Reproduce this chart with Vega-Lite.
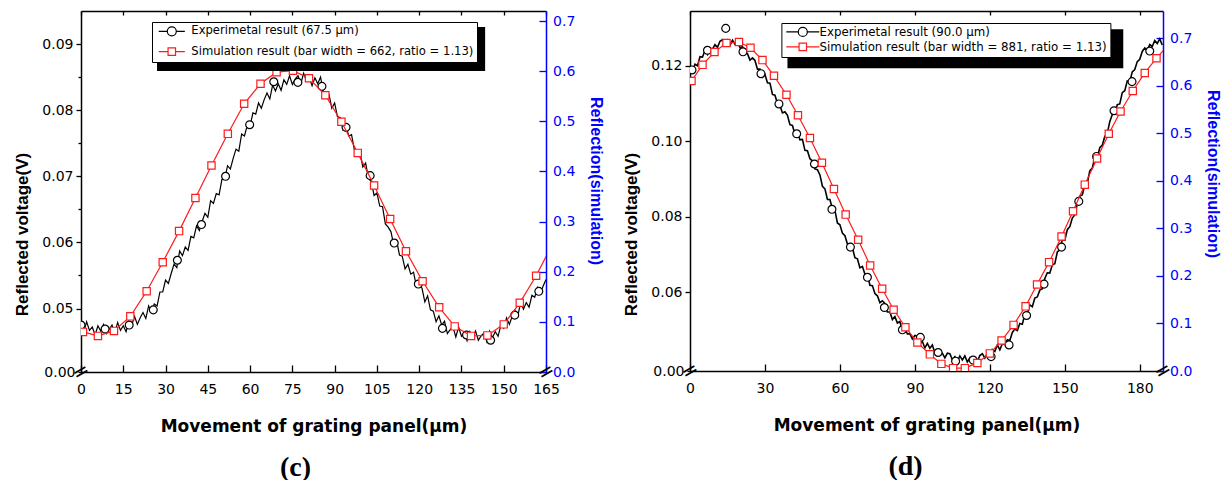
{
"$schema": "https://vega.github.io/schema/vega-lite/v6.json",
"padding": {"left": 13, "top": 10, "right": 0, "bottom": 0},
"config": {
 "view": {"stroke": null},
 "font": "Liberation Sans",
 "axis": {"grid": false, "labelOverlap": false, "labelFlush": false, "domainWidth": 1.5, "tickWidth": 1.3, "domainColor": "black", "tickColor": "black", "labelColor": "black", "titleColor": "black", "labelFont": "DejaVu Sans", "labelFontSize": 14, "titleFont": "Liberation Sans", "titleFontWeight": "bold", "titleFontSize": 17},
 "title": {"font": "Liberation Serif", "fontWeight": "bold", "fontSize": 28, "color": "black"}
},
"datasets": {
 "c_exp": [
{"x":0,"v":0.0479},{"x":1,"v":0.0465},{"x":2,"v":0.0480},{"x":3,"v":0.0467},{"x":4,"v":0.0472},{"x":5,"v":0.0460},{"x":6,"v":0.0474},{"x":7,"v":0.0466},{"x":8,"v":0.0476},{"x":9,"v":0.0462},{"x":10,"v":0.0469},
{"x":11,"v":0.0475},{"x":12,"v":0.0463},{"x":13,"v":0.0479},{"x":14,"v":0.0467},{"x":15,"v":0.0474},{"x":16,"v":0.0465},{"x":17,"v":0.0481},{"x":18,"v":0.0475},{"x":19,"v":0.0488},{"x":20,"v":0.0476},
{"x":21,"v":0.0486},{"x":22,"v":0.0494},{"x":23,"v":0.0485},{"x":24,"v":0.0504},{"x":25,"v":0.0494},{"x":26,"v":0.0507},{"x":27,"v":0.0504},{"x":28,"v":0.0525},{"x":29,"v":0.0525},{"x":30,"v":0.0543},
{"x":31,"v":0.0538},{"x":32,"v":0.0553},{"x":33,"v":0.0567},{"x":34,"v":0.0562},{"x":35,"v":0.0587},{"x":36,"v":0.0580},{"x":37,"v":0.0593},{"x":38,"v":0.0588},{"x":39,"v":0.0609},{"x":40,"v":0.0607},
{"x":41,"v":0.0625},{"x":42,"v":0.0618},{"x":43,"v":0.0632},{"x":44,"v":0.0644},{"x":45,"v":0.0638},{"x":46,"v":0.0663},{"x":47,"v":0.0659},{"x":48,"v":0.0674},{"x":49,"v":0.0672},{"x":50,"v":0.0695},
{"x":51,"v":0.0696},{"x":52,"v":0.0716},{"x":53,"v":0.0711},{"x":54,"v":0.0727},{"x":55,"v":0.0741},{"x":56,"v":0.0738},{"x":57,"v":0.0764},{"x":58,"v":0.0761},{"x":59,"v":0.0777},{"x":60,"v":0.0776},
{"x":61,"v":0.0796},{"x":62,"v":0.0794},{"x":63,"v":0.0811},{"x":64,"v":0.0803},{"x":65,"v":0.0816},{"x":66,"v":0.0826},{"x":67,"v":0.0817},{"x":68,"v":0.0838},{"x":69,"v":0.0829},{"x":70,"v":0.0840},
{"x":71,"v":0.0830},{"x":72,"v":0.0846},{"x":73,"v":0.0839},{"x":74,"v":0.0852},{"x":75,"v":0.0839},{"x":76,"v":0.0847},{"x":77,"v":0.0852},{"x":78,"v":0.0840},{"x":79,"v":0.0856},{"x":80,"v":0.0844},
{"x":81,"v":0.0849},{"x":82,"v":0.0837},{"x":83,"v":0.0849},{"x":84,"v":0.0840},{"x":85,"v":0.0850},{"x":86,"v":0.0828},{"x":87,"v":0.0827},{"x":88,"v":0.0824},{"x":89,"v":0.0803},{"x":90,"v":0.0811},
{"x":91,"v":0.0790},{"x":92,"v":0.0789},{"x":93,"v":0.0770},{"x":94,"v":0.0777},{"x":95,"v":0.0761},{"x":96,"v":0.0763},{"x":97,"v":0.0740},{"x":98,"v":0.0739},{"x":99,"v":0.0736},{"x":100,"v":0.0714},
{"x":101,"v":0.0720},{"x":102,"v":0.0697},{"x":103,"v":0.0692},{"x":104,"v":0.0671},{"x":105,"v":0.0675},{"x":106,"v":0.0655},{"x":107,"v":0.0654},{"x":108,"v":0.0628},{"x":109,"v":0.0623},{"x":110,"v":0.0616},
{"x":111,"v":0.0595},{"x":112,"v":0.0603},{"x":113,"v":0.0581},{"x":114,"v":0.0579},{"x":115,"v":0.0560},{"x":116,"v":0.0567},{"x":117,"v":0.0552},{"x":118,"v":0.0555},{"x":119,"v":0.0534},{"x":120,"v":0.0534},
{"x":121,"v":0.0531},{"x":122,"v":0.0510},{"x":123,"v":0.0519},{"x":124,"v":0.0498},{"x":125,"v":0.0496},{"x":126,"v":0.0480},{"x":127,"v":0.0489},{"x":128,"v":0.0475},{"x":129,"v":0.0481},{"x":130,"v":0.0462},
{"x":131,"v":0.0468},{"x":132,"v":0.0472},{"x":133,"v":0.0457},{"x":134,"v":0.0472},{"x":135,"v":0.0458},{"x":136,"v":0.0463},{"x":137,"v":0.0451},{"x":138,"v":0.0465},{"x":139,"v":0.0456},{"x":140,"v":0.0466},
{"x":141,"v":0.0452},{"x":142,"v":0.0459},{"x":143,"v":0.0463},{"x":144,"v":0.0450},{"x":145,"v":0.0466},{"x":146,"v":0.0456},{"x":147,"v":0.0465},{"x":148,"v":0.0458},{"x":149,"v":0.0475},{"x":150,"v":0.0470},
{"x":151,"v":0.0486},{"x":152,"v":0.0476},{"x":153,"v":0.0488},{"x":154,"v":0.0497},{"x":155,"v":0.0489},{"x":156,"v":0.0509},{"x":157,"v":0.0499},{"x":158,"v":0.0509},{"x":159,"v":0.0502},{"x":160,"v":0.0520},
{"x":161,"v":0.0517},{"x":162,"v":0.0532},{"x":163,"v":0.0523},{"x":164,"v":0.0534},{"x":165,"v":0.0544}
 ],
 "c_circ": [
{"x":0,"v":0.0475},{"x":8.55,"v":0.0469},{"x":17.1,"v":0.0475},{"x":25.65,"v":0.0498},{"x":34.2,"v":0.0573},{"x":42.75,"v":0.0627},{"x":51.3,"v":0.0700},{"x":59.85,"v":0.0778},{"x":68.4,"v":0.0843},{"x":76.95,"v":0.0842},
{"x":85.5,"v":0.0836},{"x":94.05,"v":0.0774},{"x":102.6,"v":0.0701},{"x":111.15,"v":0.0599},{"x":119.7,"v":0.0537},{"x":128.25,"v":0.0470},{"x":136.8,"v":0.0460},{"x":145.35,"v":0.0452},{"x":153.9,"v":0.0490},{"x":162.45,"v":0.0526}
 ],
 "c_sim": [
{"x":0.7,"r":0.080},{"x":6.0,"r":0.072},{"x":11.7,"r":0.082},{"x":17.5,"r":0.111},{"x":23.3,"r":0.161},{"x":29.0,"r":0.219},{"x":34.8,"r":0.281},{"x":40.6,"r":0.347},{"x":46.3,"r":0.412},{"x":52.1,"r":0.475},
{"x":57.9,"r":0.535},{"x":63.7,"r":0.575},{"x":69.4,"r":0.598},{"x":75.2,"r":0.601},{"x":80.9,"r":0.586},{"x":86.7,"r":0.552},{"x":92.4,"r":0.499},{"x":98.2,"r":0.437},{"x":104.0,"r":0.372},{"x":109.7,"r":0.305},
{"x":115.3,"r":0.241},{"x":121.2,"r":0.181},{"x":127.1,"r":0.129},{"x":132.6,"r":0.091},{"x":138.4,"r":0.072},{"x":144.2,"r":0.073},{"x":150.0,"r":0.095},{"x":155.7,"r":0.138},{"x":161.5,"r":0.192},{"x":167.3,"r":0.255}
 ],
 "c_leg": [
{"s":"Experimetal result (67.5 μm)"},
{"s":"Simulation result (bar width = 662, ratio = 1.13)"}
 ],
 "d_exp": [
{"x":0,"v":0.1193},{"x":1,"v":0.1187},{"x":2,"v":0.1204},{"x":3,"v":0.1200},{"x":4,"v":0.1224},{"x":5,"v":0.1223},{"x":6,"v":0.1241},{"x":7,"v":0.1230},{"x":8,"v":0.1247},{"x":9,"v":0.1244},{"x":10,"v":0.1256},
{"x":11,"v":0.1249},{"x":12,"v":0.1265},{"x":13,"v":0.1269},{"x":14,"v":0.1257},{"x":15,"v":0.1268},{"x":16,"v":0.1254},{"x":17,"v":0.1268},{"x":18,"v":0.1257},{"x":19,"v":0.1267},{"x":20,"v":0.1248},
{"x":21,"v":0.1251},{"x":22,"v":0.1234},{"x":23,"v":0.1232},{"x":24,"v":0.1215},{"x":25,"v":0.1221},{"x":26,"v":0.1214},{"x":27,"v":0.1191},{"x":28,"v":0.1191},{"x":29,"v":0.1170},{"x":30,"v":0.1177},
{"x":31,"v":0.1155},{"x":32,"v":0.1154},{"x":33,"v":0.1124},{"x":34,"v":0.1122},{"x":35,"v":0.1100},{"x":36,"v":0.1095},{"x":37,"v":0.1075},{"x":38,"v":0.1078},{"x":39,"v":0.1069},{"x":40,"v":0.1044},
{"x":41,"v":0.1042},{"x":42,"v":0.1019},{"x":43,"v":0.1024},{"x":44,"v":0.1004},{"x":45,"v":0.1005},{"x":46,"v":0.0976},{"x":47,"v":0.0975},{"x":48,"v":0.0954},{"x":49,"v":0.0948},{"x":50,"v":0.0927},
{"x":51,"v":0.0925},{"x":52,"v":0.0911},{"x":53,"v":0.0881},{"x":54,"v":0.0874},{"x":55,"v":0.0846},{"x":56,"v":0.0846},{"x":57,"v":0.0821},{"x":58,"v":0.0817},{"x":59,"v":0.0784},{"x":60,"v":0.0779},
{"x":61,"v":0.0757},{"x":62,"v":0.0750},{"x":63,"v":0.0728},{"x":64,"v":0.0729},{"x":65,"v":0.0718},{"x":66,"v":0.0692},{"x":67,"v":0.0689},{"x":68,"v":0.0665},{"x":69,"v":0.0669},{"x":70,"v":0.0648},
{"x":71,"v":0.0648},{"x":72,"v":0.0619},{"x":73,"v":0.0618},{"x":74,"v":0.0597},{"x":75,"v":0.0591},{"x":76,"v":0.0573},{"x":77,"v":0.0578},{"x":78,"v":0.0571},{"x":79,"v":0.0548},{"x":80,"v":0.0548},
{"x":81,"v":0.0528},{"x":82,"v":0.0536},{"x":83,"v":0.0519},{"x":84,"v":0.0523},{"x":85,"v":0.0498},{"x":86,"v":0.0504},{"x":87,"v":0.0490},{"x":88,"v":0.0491},{"x":89,"v":0.0477},{"x":90,"v":0.0486},
{"x":91,"v":0.0484},{"x":92,"v":0.0465},{"x":93,"v":0.0470},{"x":94,"v":0.0453},{"x":95,"v":0.0465},{"x":96,"v":0.0452},{"x":97,"v":0.0461},{"x":98,"v":0.0440},{"x":99,"v":0.0448},{"x":100,"v":0.0435},
{"x":101,"v":0.0439},{"x":102,"v":0.0427},{"x":103,"v":0.0439},{"x":104,"v":0.0438},{"x":105,"v":0.0422},{"x":106,"v":0.0430},{"x":107,"v":0.0417},{"x":108,"v":0.0432},{"x":109,"v":0.0421},{"x":110,"v":0.0432},
{"x":111,"v":0.0416},{"x":112,"v":0.0427},{"x":113,"v":0.0419},{"x":114,"v":0.0425},{"x":115,"v":0.0417},{"x":116,"v":0.0433},{"x":117,"v":0.0438},{"x":118,"v":0.0426},{"x":119,"v":0.0438},{"x":120,"v":0.0428},
{"x":121,"v":0.0449},{"x":122,"v":0.0444},{"x":123,"v":0.0461},{"x":124,"v":0.0448},{"x":125,"v":0.0464},{"x":126,"v":0.0462},{"x":127,"v":0.0475},{"x":128,"v":0.0473},{"x":129,"v":0.0494},{"x":130,"v":0.0503},
{"x":131,"v":0.0499},{"x":132,"v":0.0518},{"x":133,"v":0.0516},{"x":134,"v":0.0542},{"x":135,"v":0.0543},{"x":136,"v":0.0567},{"x":137,"v":0.0562},{"x":138,"v":0.0585},{"x":139,"v":0.0588},{"x":140,"v":0.0606},
{"x":141,"v":0.0610},{"x":142,"v":0.0637},{"x":143,"v":0.0652},{"x":144,"v":0.0651},{"x":145,"v":0.0673},{"x":146,"v":0.0676},{"x":147,"v":0.0707},{"x":148,"v":0.0713},{"x":149,"v":0.0740},{"x":150,"v":0.0738},
{"x":151,"v":0.0766},{"x":152,"v":0.0774},{"x":153,"v":0.0797},{"x":154,"v":0.0805},{"x":155,"v":0.0836},{"x":156,"v":0.0855},{"x":157,"v":0.0858},{"x":158,"v":0.0884},{"x":159,"v":0.0889},{"x":160,"v":0.0922},
{"x":161,"v":0.0929},{"x":162,"v":0.0957},{"x":163,"v":0.0956},{"x":164,"v":0.0983},{"x":165,"v":0.0990},{"x":166,"v":0.1013},{"x":167,"v":0.1021},{"x":168,"v":0.1052},{"x":169,"v":0.1071},{"x":170,"v":0.1074},
{"x":171,"v":0.1097},{"x":172,"v":0.1099},{"x":173,"v":0.1129},{"x":174,"v":0.1134},{"x":175,"v":0.1160},{"x":176,"v":0.1158},{"x":177,"v":0.1184},{"x":178,"v":0.1190},{"x":179,"v":0.1211},{"x":180,"v":0.1217},
{"x":181,"v":0.1238},{"x":182,"v":0.1247},{"x":183,"v":0.1240},{"x":184,"v":0.1256},{"x":185,"v":0.1251},{"x":186,"v":0.1267},{"x":187,"v":0.1259},{"x":188,"v":0.1271},{"x":189,"v":0.1255}
 ],
 "d_circ": [
{"x":0.8,"v":0.1189},{"x":7.0,"v":0.1241},{"x":14.3,"v":0.1299},{"x":21.2,"v":0.1237},{"x":28.4,"v":0.1179},{"x":35.6,"v":0.1099},{"x":42.7,"v":0.1020},{"x":49.8,"v":0.0940},{"x":56.8,"v":0.0820},{"x":64.2,"v":0.0720},
{"x":71.0,"v":0.0640},{"x":77.8,"v":0.0560},{"x":85.0,"v":0.0501},{"x":92.2,"v":0.0481},{"x":99.3,"v":0.0441},{"x":106.3,"v":0.0418},{"x":113.3,"v":0.0421},{"x":120.5,"v":0.0430},{"x":127.7,"v":0.0461},{"x":134.7,"v":0.0539},
{"x":141.7,"v":0.0622},{"x":148.7,"v":0.0720},{"x":155.6,"v":0.0841},{"x":162.7,"v":0.0960},{"x":169.7,"v":0.1081},{"x":176.9,"v":0.1158},{"x":184.0,"v":0.1239}
 ],
 "d_sim": [
{"x":0.6,"r":0.610},{"x":5.0,"r":0.644},{"x":9.8,"r":0.671},{"x":14.6,"r":0.690},{"x":19.6,"r":0.692},{"x":24.2,"r":0.680},{"x":29.0,"r":0.654},{"x":33.6,"r":0.621},{"x":38.6,"r":0.581},{"x":43.2,"r":0.538},
{"x":48.0,"r":0.490},{"x":52.8,"r":0.438},{"x":57.6,"r":0.383},{"x":62.3,"r":0.329},{"x":67.3,"r":0.276},{"x":72.1,"r":0.222},{"x":76.9,"r":0.173},{"x":81.5,"r":0.129},{"x":86.2,"r":0.092},{"x":91.0,"r":0.060},
{"x":96.0,"r":0.035},{"x":100.6,"r":0.015},{"x":105.3,"r":0.006},{"x":110.0,"r":0.006},{"x":115.0,"r":0.017},{"x":120.0,"r":0.037},{"x":124.7,"r":0.064},{"x":129.5,"r":0.097},{"x":134.3,"r":0.136},{"x":138.9,"r":0.182},
{"x":143.7,"r":0.229},{"x":148.7,"r":0.283},{"x":153.3,"r":0.336},{"x":158.0,"r":0.392},{"x":162.9,"r":0.447},{"x":167.6,"r":0.499},{"x":172.3,"r":0.546},{"x":177.2,"r":0.589},{"x":182.0,"r":0.627},{"x":186.7,"r":0.658},{"x":191.4,"r":0.686}
 ],
 "d_leg": [
{"s":"Experimetal result (90.0 μm)"},
{"s":"Simulation result (bar width = 881, ratio = 1.13)"}
 ]
},
"spacing": 18,
"resolve": {"scale": {"stroke": "independent", "shape": "independent"}},
"hconcat": [
 {
  "width": 465, "height": 361,
  "title": {"text": "(c)", "orient": "bottom", "anchor": "middle", "dx": -18, "offset": 20},
  "resolve": {"scale": {"x": "independent", "y": "independent"}},
  "layer": [
   {"layer": [
     {"data": {"name": "c_exp"}, "mark": {"type": "line", "color": "black", "strokeWidth": 1.2, "clip": true},
      "encoding": {
       "x": {"field": "x", "type": "quantitative", "scale": {"domain": [0, 165], "nice": false, "zero": false},
        "axis": {"orient": "bottom", "values": [0,15,30,45,60,75,90,105,120,135,150,165], "format": "d", "tickSize": -7, "labelPadding": 17, "title": "Movement of grating panel(μm)", "titleFont": "DejaVu Sans", "titleFontSize": 17, "titlePadding": 22}},
       "y": {"field": "v", "type": "quantitative", "scale": {"domain": [0.0404, 0.095], "nice": false, "zero": false},
        "axis": {"orient": "left", "values": [0.0404,0.05,0.055,0.06,0.065,0.07,0.075,0.08,0.085,0.09],
         "labelExpr": "datum.value < 0.045 ? '0.00' : (abs(datum.value*100 - round(datum.value*100)) < 0.01 ? format(datum.value, '.2f') : '')",
         "tickSize": {"condition": {"test": "abs(datum.value*100 - round(datum.value*100)) > 0.01", "value": 3}, "value": 5},
         "labelPadding": 3, "title": "Reflected voltage(V)", "titlePadding": 10, "titleY": 223}}}},
     {"data": {"name": "c_circ"}, "mark": {"type": "point", "shape": "circle", "filled": true, "fill": "white", "stroke": "black", "strokeWidth": 1.2, "size": 62, "opacity": 1, "clip": true},
      "encoding": {"x": {"field": "x", "type": "quantitative"}, "y": {"field": "v", "type": "quantitative"}}},
     {"data": {"values": [{}]}, "mark": {"type": "text", "text": "=", "font": "DejaVu Sans", "fontSize": 20, "angle": 330, "color": "black"},
      "encoding": {"x": {"datum": 0, "type": "quantitative"}, "y": {"datum": 0.0404, "type": "quantitative"}}}
   ]},
   {"layer": [
     {"data": {"name": "c_sim"}, "mark": {"type": "line", "color": "#ff1a1a", "strokeWidth": 1.2, "clip": true},
      "encoding": {
       "x": {"field": "x", "type": "quantitative", "scale": {"domain": [0, 165], "nice": false, "zero": false},
        "axis": {"orient": "top", "values": [0,7.5,15,22.5,30,37.5,45,52.5,60,67.5,75,82.5,90,97.5,105,112.5,120,127.5,135,142.5,150,157.5,165], "tickSize": -4, "labels": false, "title": null}},
       "y": {"field": "r", "type": "quantitative", "scale": {"domain": [0, 0.72], "nice": false, "zero": false},
        "axis": {"orient": "right", "values": [0,0.05,0.1,0.15,0.2,0.25,0.3,0.35,0.4,0.45,0.5,0.55,0.6,0.65,0.7],
         "labelExpr": "datum.value == 0 ? '0.0' : (abs(datum.value*10 - round(datum.value*10)) < 0.01 ? format(datum.value, '.1f') : '')",
         "tickSize": {"condition": {"test": "abs(datum.value*10 - round(datum.value*10)) > 0.01", "value": -4}, "value": -7},
         "labelPadding": 13.6, "domainColor": "#0000ff", "tickColor": "#0000ff", "labelColor": "#0000ff", "titleColor": "#0000ff",
         "title": "Reflection(simulation)", "titleFontSize": 16, "titlePadding": 13, "titleY": 169.5}}}},
     {"data": {"name": "c_sim"}, "mark": {"type": "point", "shape": "square", "filled": true, "fill": "white", "stroke": "#ff1a1a", "strokeWidth": 1.2, "size": 53, "opacity": 1, "clip": true},
      "encoding": {"x": {"field": "x", "type": "quantitative"}, "y": {"field": "r", "type": "quantitative"}}},
     {"data": {"values": [{}]}, "mark": {"type": "text", "text": "=", "font": "DejaVu Sans", "fontSize": 20, "angle": 330, "color": "black"},
      "encoding": {"x": {"datum": 165, "type": "quantitative"}, "y": {"datum": 0, "type": "quantitative"}}},
     {"data": {"values": [{}]}, "mark": {"type": "rect", "color": "black"},
      "encoding": {"x": {"datum": 26.97, "type": "quantitative"}, "x2": {"datum": 143.4}, "y": {"datum": 0.6881, "type": "quantitative"}, "y2": {"datum": 0.6005}}},
     {"data": {"name": "c_leg"}, "mark": {"type": "point", "opacity": 0, "filled": true, "fill": "white"},
      "encoding": {
       "stroke": {"field": "s", "type": "nominal", "scale": {"domain": ["Experimetal result (67.5 μm)", "Simulation result (bar width = 662, ratio = 1.13)"], "range": ["black", "#ff1a1a"]},
        "legend": {"title": null, "orient": "none", "legendX": 71, "legendY": 11, "padding": 3.5, "rowPadding": 6.4, "symbolOffset": 10.5, "labelOffset": 13.7, "labelFont": "DejaVu Sans", "labelFontSize": 11.6, "labelColor": "black", "labelLimit": 600, "symbolSize": 81, "symbolStrokeWidth": 1.2, "symbolFillColor": "white", "fillColor": "white", "strokeColor": "black", "symbolOpacity": 1}},
       "shape": {"field": "s", "type": "nominal", "scale": {"domain": ["Experimetal result (67.5 μm)", "Simulation result (bar width = 662, ratio = 1.13)"], "range": ["M-2.9,0H-1M1,0H2.9M-1,0A1,1,0,1,0,1,0A1,1,0,1,0,-1,0Z", "M-2.9,0H-0.83M0.83,0H2.9M-0.83,-0.83H0.83V0.83H-0.83Z"]},
        "legend": {"title": null, "orient": "none", "legendX": 71, "legendY": 11, "padding": 3.5, "rowPadding": 6.4, "symbolOffset": 10.5, "labelOffset": 13.7, "labelFont": "DejaVu Sans", "labelFontSize": 11.6, "labelColor": "black", "labelLimit": 600, "symbolSize": 81, "symbolStrokeWidth": 1.2, "symbolFillColor": "white", "fillColor": "white", "strokeColor": "black", "symbolOpacity": 1}}}}
   ]}
  ]
 },
 {
  "width": 473, "height": 360,
  "title": {"text": "(d)", "orient": "bottom", "anchor": "middle", "dx": -21, "offset": 20},
  "resolve": {"scale": {"x": "independent", "y": "independent"}},
  "layer": [
   {"layer": [
     {"data": {"name": "d_exp"}, "mark": {"type": "line", "color": "black", "strokeWidth": 1.6, "clip": true},
      "encoding": {
       "x": {"field": "x", "type": "quantitative", "scale": {"domain": [0, 189.3], "nice": false, "zero": false},
        "axis": {"orient": "bottom", "values": [0,15,30,45,60,75,90,105,120,135,150,165,180], "format": "d", "tickSize": -7, "labelPadding": 17, "title": "Movement of grating panel(μm)", "titleFont": "DejaVu Sans", "titleFontSize": 17, "titlePadding": 22}},
       "y": {"field": "v", "type": "quantitative", "scale": {"domain": [0.0392, 0.1345], "nice": false, "zero": false},
        "axis": {"orient": "left", "values": [0.0392,0.05,0.06,0.07,0.08,0.09,0.10,0.11,0.12,0.13],
         "labelExpr": "datum.value < 0.045 ? '0.00' : (abs(datum.value*50 - round(datum.value*50)) < 0.01 ? format(datum.value, '.2f') : '')",
         "tickSize": {"condition": {"test": "abs(datum.value*50 - round(datum.value*50)) > 0.01", "value": 3}, "value": 5},
         "labelPadding": 3, "title": "Reflected voltage(V)", "titlePadding": 10, "titleY": 223}}}},
     {"data": {"name": "d_circ"}, "mark": {"type": "point", "shape": "circle", "filled": true, "fill": "white", "stroke": "black", "strokeWidth": 1.2, "size": 62, "opacity": 1, "clip": true},
      "encoding": {"x": {"field": "x", "type": "quantitative"}, "y": {"field": "v", "type": "quantitative"}}},
     {"data": {"values": [{}]}, "mark": {"type": "text", "text": "=", "font": "DejaVu Sans", "fontSize": 20, "angle": 330, "color": "black"},
      "encoding": {"x": {"datum": 0, "type": "quantitative"}, "y": {"datum": 0.0392, "type": "quantitative"}}}
   ]},
   {"layer": [
     {"data": {"name": "d_sim"}, "mark": {"type": "line", "color": "#ff1a1a", "strokeWidth": 1.2, "clip": true},
      "encoding": {
       "x": {"field": "x", "type": "quantitative", "scale": {"domain": [0, 189.3], "nice": false, "zero": false},
        "axis": {"orient": "top", "values": [0,7.5,15,22.5,30,37.5,45,52.5,60,67.5,75,82.5,90,97.5,105,112.5,120,127.5,135,142.5,150,157.5,165,172.5,180,187.5], "tickSize": -4, "labels": false, "title": null}},
       "y": {"field": "r", "type": "quantitative", "scale": {"domain": [0, 0.7573], "nice": false, "zero": false},
        "axis": {"orient": "right", "values": [0,0.05,0.1,0.15,0.2,0.25,0.3,0.35,0.4,0.45,0.5,0.55,0.6,0.65,0.7,0.75],
         "labelExpr": "datum.value == 0 ? '0.0' : (abs(datum.value*10 - round(datum.value*10)) < 0.01 ? format(datum.value, '.1f') : '')",
         "tickSize": {"condition": {"test": "abs(datum.value*10 - round(datum.value*10)) > 0.01", "value": -4}, "value": -7},
         "labelPadding": 13.6, "domainColor": "#0000ff", "tickColor": "#0000ff", "labelColor": "#0000ff", "titleColor": "#0000ff",
         "title": "Reflection(simulation)", "titleFontSize": 16, "titlePadding": 13, "titleY": 162.5}}}},
     {"data": {"name": "d_sim"}, "mark": {"type": "point", "shape": "square", "filled": true, "fill": "white", "stroke": "#ff1a1a", "strokeWidth": 1.2, "size": 53, "opacity": 1, "clip": true},
      "encoding": {"x": {"field": "x", "type": "quantitative"}, "y": {"field": "r", "type": "quantitative"}}},
     {"data": {"values": [{}]}, "mark": {"type": "text", "text": "=", "font": "DejaVu Sans", "fontSize": 20, "angle": 330, "color": "black"},
      "encoding": {"x": {"datum": 189.3, "type": "quantitative"}, "y": {"datum": 0, "type": "quantitative"}}},
     {"data": {"values": [{}]}, "mark": {"type": "rect", "color": "black"},
      "encoding": {"x": {"datum": 39.0, "type": "quantitative"}, "x2": {"datum": 173.4}, "y": {"datum": 0.7188, "type": "quantitative"}, "y2": {"datum": 0.6368}}},
     {"data": {"name": "d_leg"}, "mark": {"type": "point", "opacity": 0, "filled": true, "fill": "white"},
      "encoding": {
       "stroke": {"field": "s", "type": "nominal", "scale": {"domain": ["Experimetal result (90.0 μm)", "Simulation result (bar width = 881, ratio = 1.13)"], "range": ["black", "#ff1a1a"]},
        "legend": {"title": null, "orient": "none", "legendX": 91.4, "legendY": 12, "padding": 3, "rowPadding": 1, "symbolOffset": 12.5, "labelOffset": 10.8, "labelFont": "DejaVu Sans", "labelFontSize": 11.8, "labelColor": "black", "labelLimit": 600, "symbolSize": 81, "symbolStrokeWidth": 1.2, "symbolFillColor": "white", "fillColor": "white", "strokeColor": "black", "symbolOpacity": 1}},
       "shape": {"field": "s", "type": "nominal", "scale": {"domain": ["Experimetal result (90.0 μm)", "Simulation result (bar width = 881, ratio = 1.13)"], "range": ["M-3.67,0H-1M1,0H3.67M-1,0A1,1,0,1,0,1,0A1,1,0,1,0,-1,0Z", "M-3.67,0H-0.83M0.83,0H3.67M-0.83,-0.83H0.83V0.83H-0.83Z"]},
        "legend": {"title": null, "orient": "none", "legendX": 91.4, "legendY": 12, "padding": 3, "rowPadding": 1, "symbolOffset": 12.5, "labelOffset": 10.8, "labelFont": "DejaVu Sans", "labelFontSize": 11.8, "labelColor": "black", "labelLimit": 600, "symbolSize": 81, "symbolStrokeWidth": 1.2, "symbolFillColor": "white", "fillColor": "white", "strokeColor": "black", "symbolOpacity": 1}}}}
   ]}
  ]
 }
]
}
